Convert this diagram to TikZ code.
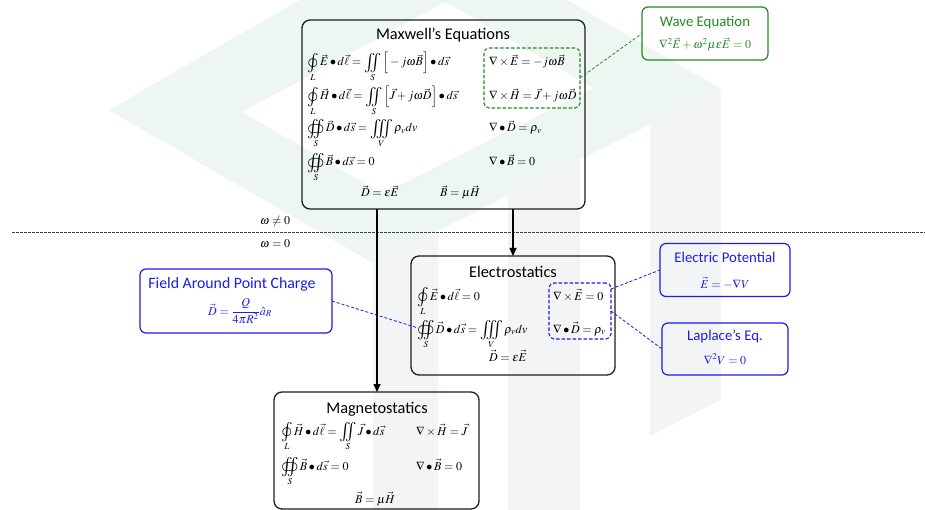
\documentclass[tikz,border=0pt]{standalone}
\usepackage{amsmath}
\usepackage{mathptmx}
\usepackage{esint}
\usepackage{graphicx}
\usepackage[no-math]{fontspec}
\setmainfont{Carlito}
\usetikzlibrary{arrows.meta}
\definecolor{wmgreen}{RGB}{237,246,240}
\definecolor{wmgray}{RGB}{243,244,246}
\definecolor{eqgreen}{RGB}{34,139,34}
\definecolor{eqblue}{RGB}{28,28,235}
\definecolor{boxline}{RGB}{30,30,30}
\newcommand{\ttlsize}{\fontsize{16.3}{19}\selectfont}
\newcommand{\smttlsize}{\fontsize{14.8}{17}\selectfont}
\newcommand{\fapcsize}{\fontsize{15.8}{18}\selectfont}
\newcommand{\eqsize}{\fontsize{12}{14}\selectfont}
\newcommand{\Sint}[1]{\mathop{\vcenter{\hbox{\scalebox{1.45}{$#1$}}}}}
\begin{document}
\begin{tikzpicture}[x=1pt,y=-1pt,
  mainbox/.style={draw=boxline, line width=1.3pt, rounded corners=8pt, inner sep=0pt, outer sep=0pt},
  greenbox/.style={draw=eqgreen, line width=1.2pt, rounded corners=6pt, inner sep=0pt, outer sep=0pt},
  bluebox/.style={draw=eqblue, line width=1.2pt, rounded corners=6pt, inner sep=0pt, outer sep=0pt},
  dgreenbox/.style={draw=eqgreen, line width=1.1pt, dash pattern=on 3.5pt off 2pt, rounded corners=5pt, inner sep=0pt, outer sep=0pt},
  dbluebox/.style={draw=eqblue, line width=1.1pt, dash pattern=on 3.5pt off 2pt, rounded corners=5pt, inner sep=0pt, outer sep=0pt},
  ttl/.style={inner sep=0pt, font=\ttlsize, anchor=base},
  smttl/.style={inner sep=0pt, font=\smttlsize, anchor=base},
  eq/.style={inner sep=0pt, font=\eqsize},
  flow/.style={draw=black, line width=1.3pt, -{Triangle[length=8pt,width=7pt]}},
  gconn/.style={draw=eqgreen, line width=0.8pt, dash pattern=on 3pt off 2pt},
  bconn/.style={draw=eqblue, line width=0.8pt, dash pattern=on 3pt off 2pt},
  sepline/.style={draw=black!75, line width=0.7pt, dash pattern=on 2.5pt off 1.5pt}
]
\clip (0,0) rectangle (925,510);
\fill[white] (0,0) rectangle (925,510);
% watermark
\fill[wmgreen, even odd rule] (109,110) -- (433,-77) -- (721,89) -- (373,263) -- cycle
  (242,112) -- (445,2) -- (594,88) -- (383,194) -- cycle;
\fill[wmgray] (373,263) -- (438,230.5) -- (438,520) -- (373,520) -- cycle;
\fill[wmgray] (508,195.5) -- (580,159.5) -- (580,520) -- (508,520) -- cycle;
\fill[wmgray] (650,124.5) -- (721,89) -- (721,400) -- (650,436) -- cycle;

% separator
\coordinate (sl) at (12,232);
\coordinate (sr) at (925,232);
\draw[sepline] (sl) -- (sr);
\node[eq, anchor=base west] (wne) at (260,225) {$\omega\neq 0$};
\node[eq, anchor=base west] (weq) at (260,248) {$\omega=0$};

% Maxwell
\node[mainbox, minimum width=283pt, minimum height=189pt] (maxwell) at (443.5,114.5) {};
\node[ttl] (mxT) at (443,40) {Maxwell’s Equations};
\node[eq, anchor=base west] (mx1) at (307,66) {$\Sint{\oint}\limits_L \vec{E}\bullet d\vec{\ell} = \Sint{\iint}\limits_S \Big[-j\omega\vec{B}\Big]\bullet d\vec{s}$};
\node[eq, anchor=base west] (mx2) at (307,100) {$\Sint{\oint}\limits_L \vec{H}\bullet d\vec{\ell} = \Sint{\iint}\limits_S \Big[\vec{J}+j\omega\vec{D}\Big]\bullet d\vec{s}$};
\node[eq, anchor=base west] (mx3) at (307,132) {$\Sint{\oiint}\limits_S \vec{D}\bullet d\vec{s} = \Sint{\iiint}\limits_V \rho_v dv$};
\node[eq, anchor=base west] (mx4) at (307,166) {$\Sint{\oiint}\limits_S \vec{B}\bullet d\vec{s} = 0$};
\node[eq, anchor=base west] (mr1) at (489,66) {$\nabla\times\vec{E}=-j\omega\vec{B}$};
\node[eq, anchor=base west] (mr2) at (489,100) {$\nabla\times\vec{H}=\vec{J}+j\omega\vec{D}$};
\node[eq, anchor=base west] (mr3) at (489,132) {$\nabla\bullet\vec{D}=\rho_v$};
\node[eq, anchor=base west] (mr4) at (489,166) {$\nabla\bullet\vec{B}=0$};
\node[eq, anchor=base] (mc1) at (380,197) {$\vec{D}=\varepsilon\vec{E}$};
\node[eq, anchor=base] (mc2) at (460,197) {$\vec{B}=\mu\vec{H}$};
\node[dgreenbox, minimum width=96pt, minimum height=60pt] (gbox) at (532,78) {};

% Wave equation
\node[greenbox, minimum width=126pt, minimum height=53pt] (wave) at (705,33.5) {};
\node[smttl, text=eqgreen] (waveT) at (705,27) {Wave Equation};
\node[eq, anchor=base, text=eqgreen] (waveE) at (705,49) {$\nabla^2\vec{E}+\omega^2\mu\varepsilon\vec{E}=0$};
\draw[gconn] (gbox.east) -- (wave.west);

% Electrostatics
\node[mainbox, minimum width=204pt, minimum height=119pt] (es) at (513,315.5) {};
\node[ttl] (esT) at (513,277) {Electrostatics};
\node[eq, anchor=base west] (es1) at (417,300) {$\Sint{\oint}\limits_L \vec{E}\bullet d\vec{\ell} = 0$};
\node[eq, anchor=base west] (es2) at (417,333) {$\Sint{\oiint}\limits_S \vec{D}\bullet d\vec{s} = \Sint{\iiint}\limits_V \rho_v dv$};
\node[eq, anchor=base west] (er1) at (553,300) {$\nabla\times\vec{E}=0$};
\node[eq, anchor=base west] (er2) at (553,333) {$\nabla\bullet\vec{D}=\rho_v$};
\node[eq, anchor=base] (ec1) at (508,361) {$\vec{D}=\varepsilon\vec{E}$};
\node[dbluebox, minimum width=62pt, minimum height=56pt] (bbox) at (580,311) {};

% Field around point charge
\node[bluebox, minimum width=192pt, minimum height=64pt] (fapc) at (236,301) {};
\node[smttl, font=\fapcsize, text=eqblue] (fapcT) at (232,288) {Field Around Point Charge};
\node[eq, anchor=base, text=eqblue] (fapcE) at (240,315) {$\vec{D}=\dfrac{Q}{4\pi R^2}\hat{a}_R$};
\draw[bconn] (fapc.east) -- ([yshift=7pt]es2.west);

% Electric potential
\node[bluebox, minimum width=130pt, minimum height=53pt] (ep) at (725,270) {};
\node[smttl, text=eqblue] (epT) at (725,263) {Electric Potential};
\node[eq, anchor=base, text=eqblue] (epE) at (725,288) {$\vec{E}=-\nabla V$};
\draw[bconn] ([yshift=22pt]bbox.east) -- (ep.west);

% Laplace
\node[bluebox, minimum width=126pt, minimum height=52pt] (lap) at (725,349) {};
\node[smttl, text=eqblue] (lapT) at (725,340) {Laplace’s Eq.};
\node[eq, anchor=base, text=eqblue] (lapE) at (725,364) {$\nabla^2 V=0$};
\draw[bconn] (bbox.east) -- (lap.west);

% Magnetostatics
\node[mainbox, minimum width=205pt, minimum height=117pt] (mag) at (376.5,450.5) {};
\node[ttl] (magT) at (377,413) {Magnetostatics};
\node[eq, anchor=base west] (mg1) at (281,435) {$\Sint{\oint}\limits_L \vec{H}\bullet d\vec{\ell} = \Sint{\iint}\limits_S \vec{J}\bullet d\vec{s}$};
\node[eq, anchor=base west] (mg2) at (281,470) {$\Sint{\oiint}\limits_S \vec{B}\bullet d\vec{s} = 0$};
\node[eq, anchor=base west] (mgr1) at (416,435) {$\nabla\times\vec{H}=\vec{J}$};
\node[eq, anchor=base west] (mgr2) at (416,470) {$\nabla\bullet\vec{B}=0$};
\node[eq, anchor=base] (mgc) at (375,503) {$\vec{B}=\mu\vec{H}$};

% flow arrows
\coordinate (xl) at (377,0);
\coordinate (xr) at (513,0);
\draw[flow] (xl |- maxwell.south) -- (xl |- mag.north);
\draw[flow] (xr |- maxwell.south) -- (xr |- es.north);
\end{tikzpicture}
\end{document}
